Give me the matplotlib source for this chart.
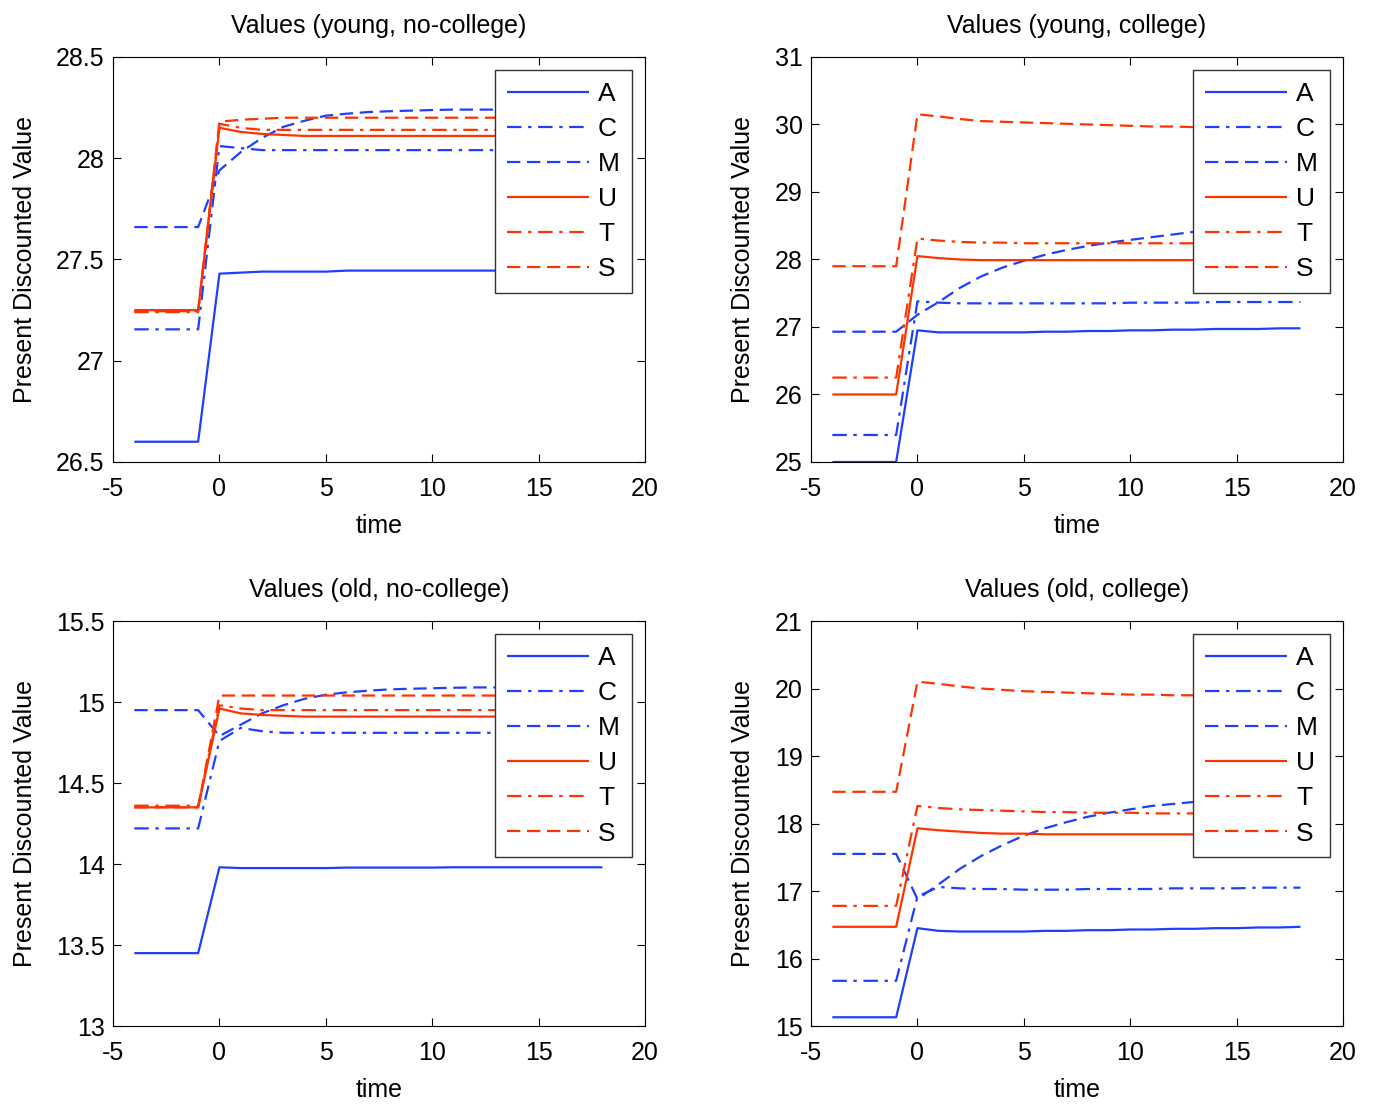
import numpy as np
import matplotlib
matplotlib.use('Agg')
from matplotlib import pyplot as plt

plt.rcParams['font.family'] = ['Liberation Sans', 'DejaVu Sans']
plt.rcParams['axes.unicode_minus'] = False

time = list(range(-4, 19))
labels = ['A', 'C', 'M', 'U', 'T', 'S']
titles = ['Values (young, no-college)', 'Values (young, college)',
          'Values (old, no-college)', 'Values (old, college)']

# young, no-college
yn_A = [26.60, 26.60, 26.60, 26.60, 27.43, 27.435, 27.44, 27.44, 27.44, 27.44, 27.445, 27.445,
        27.445, 27.445, 27.445, 27.445, 27.445, 27.445, 27.445, 27.445, 27.445, 27.445, 27.445]
yn_C = [27.155, 27.155, 27.155, 27.155, 28.06, 28.05, 28.04, 28.04, 28.04, 28.04, 28.04, 28.04,
        28.04, 28.04, 28.04, 28.04, 28.04, 28.04, 28.04, 28.04, 28.04, 28.04, 28.04]
yn_M = [27.66, 27.66, 27.66, 27.66, 27.94, 28.03, 28.10, 28.155, 28.185, 28.21, 28.22, 28.228,
        28.232, 28.235, 28.238, 28.24, 28.24, 28.24, 28.24, 28.24, 28.24, 28.24, 28.24]
yn_U = [27.25, 27.25, 27.25, 27.25, 28.15, 28.13, 28.12, 28.115, 28.11, 28.11, 28.11, 28.11,
        28.11, 28.11, 28.11, 28.11, 28.11, 28.11, 28.11, 28.11, 28.11, 28.11, 28.11]
yn_T = [27.24, 27.24, 27.24, 27.24, 28.17, 28.15, 28.14, 28.14, 28.14, 28.14, 28.14, 28.14,
        28.14, 28.14, 28.14, 28.14, 28.14, 28.14, 28.14, 28.14, 28.14, 28.14, 28.14]
yn_S = [27.245, 27.245, 27.245, 27.245, 28.18, 28.19, 28.195, 28.20, 28.20, 28.20, 28.20, 28.20,
        28.20, 28.20, 28.20, 28.20, 28.20, 28.20, 28.20, 28.20, 28.20, 28.20, 28.20]

# young, college
yc_A = [25.0, 25.0, 25.0, 25.0, 26.95, 26.92, 26.92, 26.92, 26.92, 26.92, 26.93, 26.93,
        26.94, 26.94, 26.95, 26.95, 26.96, 26.96, 26.97, 26.97, 26.97, 26.98, 26.98]
yc_C = [25.4, 25.4, 25.4, 25.4, 27.38, 27.36, 27.35, 27.35, 27.35, 27.35, 27.35, 27.35,
        27.35, 27.35, 27.36, 27.36, 27.36, 27.36, 27.37, 27.37, 27.37, 27.37, 27.37]
yc_M = [26.93, 26.93, 26.93, 26.93, 27.18, 27.37, 27.58, 27.75, 27.88, 27.98, 28.07, 28.14,
        28.20, 28.25, 28.29, 28.33, 28.37, 28.41, 28.43, 28.45, 28.47, 28.48, 28.49]
yc_U = [26.0, 26.0, 26.0, 26.0, 28.05, 28.02, 28.0, 27.99, 27.99, 27.99, 27.99, 27.99,
        27.99, 27.99, 27.99, 27.99, 27.99, 27.99, 27.99, 27.99, 27.99, 27.99, 27.99]
yc_T = [26.25, 26.25, 26.25, 26.25, 28.31, 28.28, 28.26, 28.25, 28.25, 28.24, 28.24, 28.24,
        28.24, 28.24, 28.24, 28.24, 28.24, 28.24, 28.24, 28.24, 28.24, 28.24, 28.24]
yc_S = [27.9, 27.9, 27.9, 27.9, 30.15, 30.12, 30.08, 30.05, 30.04, 30.03, 30.02, 30.01,
        30.0, 29.99, 29.98, 29.97, 29.97, 29.96, 29.96, 29.96, 29.95, 29.95, 29.95]

# old, no-college
on_A = [13.45, 13.45, 13.45, 13.45, 13.98, 13.975, 13.975, 13.975, 13.975, 13.975, 13.978, 13.978,
        13.978, 13.978, 13.978, 13.98, 13.98, 13.98, 13.98, 13.98, 13.98, 13.98, 13.98]
on_C = [14.22, 14.22, 14.22, 14.22, 14.76, 14.84, 14.82, 14.81, 14.81, 14.81, 14.81, 14.81,
        14.81, 14.81, 14.81, 14.81, 14.81, 14.81, 14.81, 14.81, 14.81, 14.81, 14.81]
on_M = [14.95, 14.95, 14.95, 14.95, 14.79, 14.86, 14.93, 14.98, 15.02, 15.045, 15.06, 15.07,
        15.078, 15.082, 15.085, 15.088, 15.09, 15.09, 15.09, 15.09, 15.09, 15.09, 15.09]
on_U = [14.35, 14.35, 14.35, 14.35, 14.96, 14.93, 14.92, 14.915, 14.91, 14.91, 14.91, 14.91,
        14.91, 14.91, 14.91, 14.91, 14.91, 14.91, 14.91, 14.91, 14.91, 14.91, 14.91]
on_T = [14.36, 14.36, 14.36, 14.36, 14.98, 14.96, 14.95, 14.95, 14.95, 14.95, 14.95, 14.95,
        14.95, 14.95, 14.95, 14.95, 14.95, 14.95, 14.95, 14.95, 14.95, 14.95, 14.95]
on_S = [14.35, 14.35, 14.35, 14.35, 15.04, 15.04, 15.04, 15.04, 15.04, 15.04, 15.04, 15.04,
        15.04, 15.04, 15.04, 15.04, 15.04, 15.04, 15.04, 15.04, 15.04, 15.04, 15.04]

# old, college
oc_A = [15.13, 15.13, 15.13, 15.13, 16.45, 16.41, 16.40, 16.40, 16.40, 16.40, 16.41, 16.41,
        16.42, 16.42, 16.43, 16.43, 16.44, 16.44, 16.45, 16.45, 16.46, 16.46, 16.47]
oc_C = [15.67, 15.67, 15.67, 15.67, 16.92, 17.06, 17.04, 17.03, 17.03, 17.02, 17.02, 17.02,
        17.03, 17.03, 17.03, 17.03, 17.04, 17.04, 17.04, 17.04, 17.05, 17.05, 17.05]
oc_M = [17.55, 17.55, 17.55, 17.55, 16.88, 17.10, 17.33, 17.52, 17.68, 17.82, 17.93, 18.02,
        18.10, 18.16, 18.21, 18.26, 18.29, 18.32, 18.34, 18.36, 18.37, 18.38, 18.39]
oc_U = [16.47, 16.47, 16.47, 16.47, 17.93, 17.90, 17.88, 17.86, 17.85, 17.85, 17.84, 17.84,
        17.84, 17.84, 17.84, 17.84, 17.84, 17.84, 17.84, 17.84, 17.84, 17.84, 17.84]
oc_T = [16.78, 16.78, 16.78, 16.78, 18.26, 18.23, 18.21, 18.20, 18.19, 18.18, 18.17, 18.17,
        18.16, 18.16, 18.16, 18.15, 18.15, 18.15, 18.15, 18.15, 18.15, 18.15, 18.15]
oc_S = [18.47, 18.47, 18.47, 18.47, 20.10, 20.07, 20.03, 20.00, 19.98, 19.96, 19.95, 19.94,
        19.93, 19.92, 19.91, 19.91, 19.90, 19.90, 19.89, 19.89, 19.88, 19.88, 19.88]

panels = [
    [yn_A, yn_C, yn_M, yn_U, yn_T, yn_S],
    [yc_A, yc_C, yc_M, yc_U, yc_T, yc_S],
    [on_A, on_C, on_M, on_U, on_T, on_S],
    [oc_A, oc_C, oc_M, oc_U, oc_T, oc_S],
]
ylims = [(26.5, 28.5), (25, 31), (13, 15.5), (15, 21)]
yticks = [np.arange(26.5, 28.51, 0.5), np.arange(25, 31.1, 1),
          np.arange(13, 15.51, 0.5), np.arange(15, 21.1, 1)]

blue = '#1f3fff'
red = '#ff3300'
solid = (0, ())
dashdot = (0, (6.5, 3, 1.5, 3))
dashed = (0, (6, 3))
styles = [(blue, solid), (blue, dashdot), (blue, dashed), (red, solid), (red, dashdot), (red, dashed)]

fig = plt.figure(figsize=(13.77, 11.06), dpi=100)
lefts = [0.0821, 0.589, 0.0821, 0.589]
bottoms = [0.5823, 0.5823, 0.0723, 0.0723]
fs = 18

for i in range(4):
    ax = fig.add_axes([lefts[i], bottoms[i], 0.3863, 0.3662])
    for (c, ls), lab, vals in zip(styles, labels, panels[i]):
        ax.plot(time, vals, color=c, linestyle=ls, linewidth=1.6, label=lab)
    ax.set_xlim(-5, 20)
    ax.set_ylim(*ylims[i])
    ax.set_xticks(range(-5, 21, 5))
    ax.set_yticks(yticks[i])
    ax.set_yticklabels(['%g' % v for v in yticks[i]])
    ax.tick_params(direction='in', top=True, right=True, labelsize=fs, length=6, width=0.8, pad=6)
    ax.tick_params(axis='x', pad=11)
    for s in ax.spines.values():
        s.set_linewidth(0.8)
    ax.set_title(titles[i], fontsize=fs, pad=17)
    ax.set_xlabel('time', fontsize=fs, labelpad=9)
    ax.set_ylabel('Present Discounted Value', fontsize=fs, labelpad=14)
    leg = ax.legend(loc='upper right', fontsize=fs + 1, handlelength=3.1, frameon=True, fancybox=False,
                    edgecolor='#333333', framealpha=1, borderaxespad=0.5, labelspacing=0.42,
                    handletextpad=0.35, borderpad=0.45)
    leg.get_frame().set_linewidth(1.0)

plt.savefig('out.png', dpi=100)
